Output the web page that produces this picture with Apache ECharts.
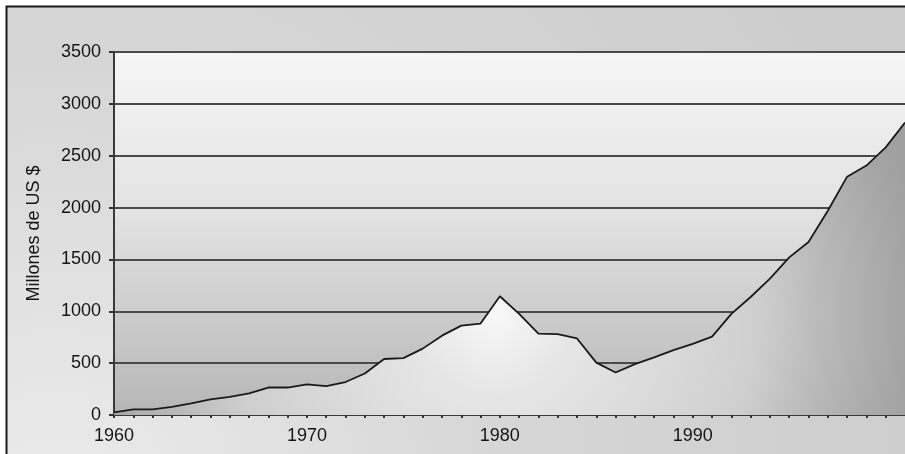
<!DOCTYPE html>
<html>
<head>
<meta charset="utf-8">
<script src="https://cdn.jsdelivr.net/npm/echarts@6/dist/echarts.min.js"></script>
<style>
  html, body { margin: 0; padding: 0; background: #ffffff; }
  #chart { width: 905px; height: 454px; }
</style>
</head>
<body>
<div id="chart"></div>
<script>
// Data
var years = [1960,1961,1962,1963,1964,1965,1966,1967,1968,1969,
             1970,1971,1972,1973,1974,1975,1976,1977,1978,1979,
             1980,1981,1982,1983,1984,1985,1986,1987,1988,1989,
             1990,1991,1992,1993,1994,1995,1996,1997,1998,1999,
             2000,2001];
var values = [25,55,55,78,112,150,175,208,265,265,
              295,278,318,400,540,548,640,765,862,882,
              1145,975,785,780,738,505,410,490,555,625,
              685,755,975,1138,1314,1520,1668,1970,2298,2405,
              2580,2820];
var xLabels = [1960, 1970, 1980, 1990];
var yTicks = [0, 500, 1000, 1500, 2000, 2500, 3000, 3500];
var yAxisTitle = 'Millones de US $';

var seriesData = years.map(function (y, i) { return [y, values[i]]; });

var chart = echarts.init(document.getElementById('chart'), null, { renderer: 'canvas' });
var font = '"Liberation Sans", Arial, sans-serif';

chart.setOption({
  backgroundColor: '#ffffff',
  animation: false,
  graphic: [
    {
      type: 'rect', z: -100, silent: true,
      shape: { x: 7, y: 7, width: 1000, height: 1000 },
      style: {
        fill: {
          type: 'radial', x: 0.05, y: 0.5, r: 0.9,
          colorStops: [
            { offset: 0, color: '#ececec' },
            { offset: 0.5, color: '#d6d6d6' },
            { offset: 1, color: '#cdcdcd' }
          ]
        }
      }
    },
    {
      type: 'rect', z: 100, silent: true,
      shape: { x: 6.5, y: 6.5, width: 1000, height: 1000 },
      style: { fill: 'none', stroke: '#1a1a1a', lineWidth: 2 }
    }
  ],
  grid: {
    left: 114, top: 52, width: 798, height: 363,
    show: true,
    borderWidth: 0,
    backgroundColor: {
      type: 'linear', x: 0, y: 0, x2: 0, y2: 1,
      colorStops: [
        { offset: 0, color: '#f6f6f6' },
        { offset: 0.45, color: '#e2e2e2' },
        { offset: 1, color: '#b6b6b6' }
      ]
    }
  },
  xAxis: {
    type: 'value',
    min: 1960, max: 2001, interval: 1,
    axisLine: { show: true, onZero: false, lineStyle: { color: '#3a3a3a', width: 2 } },
    axisTick: { show: true, length: 3, lineStyle: { color: '#333', width: 2 } },
    axisLabel: {
      show: true, margin: 12, fontSize: 18, color: '#151515', fontFamily: font,
      showMaxLabel: false,
      formatter: function (v) { return xLabels.indexOf(v) >= 0 ? String(v) : ''; }
    },
    splitLine: { show: false }
  },
  yAxis: {
    type: 'value',
    min: 0, max: 3500, interval: 500,
    name: yAxisTitle,
    nameLocation: 'middle',
    nameGap: 71,
    nameRotate: 90,
    nameTextStyle: { fontSize: 18, color: '#151515', fontFamily: font },
    axisLine: { show: true, lineStyle: { color: '#3a3a3a', width: 2 } },
    axisTick: { show: true, length: 5, lineStyle: { color: '#333', width: 2 } },
    axisLabel: {
      margin: 13, fontSize: 18, color: '#151515', fontFamily: font,
      formatter: function (v) { return yTicks.indexOf(v) >= 0 ? String(v) : ''; }
    },
    splitLine: { show: true, lineStyle: { color: '#4a4a4a', width: 2 } }
  },
  series: [{
    type: 'line',
    data: seriesData,
    showSymbol: false,
    lineStyle: { color: '#1a1a1a', width: 1.8 },
    areaStyle: {
      opacity: 1,
      color: {
        type: 'radial', x: 0.48, y: 0.65, r: 1.8,
        colorStops: [
          { offset: 0, color: '#f8f8f8' },
          { offset: 0.15, color: '#e6e6e6' },
          { offset: 0.5, color: '#cfcfcf' },
          { offset: 0.62, color: '#bababa' },
          { offset: 0.8, color: '#a2a2a2' },
          { offset: 1, color: '#959595' }
        ]
      }
    },
    z: 3
  }]
});
</script>
</body>
</html>
